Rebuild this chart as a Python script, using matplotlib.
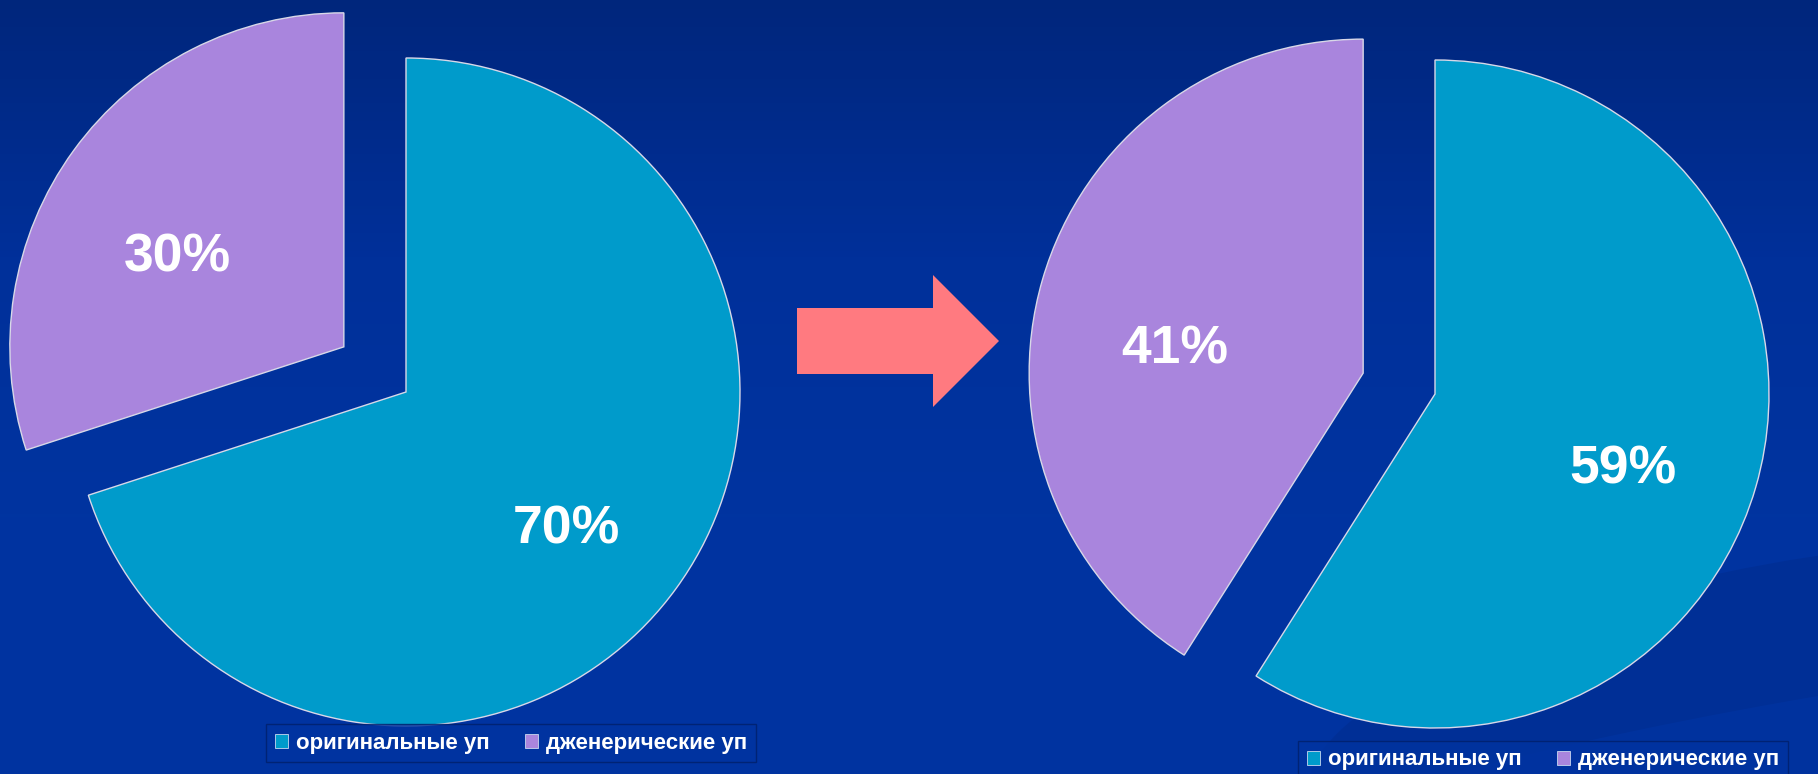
import numpy as np
import matplotlib
matplotlib.use("Agg")
import matplotlib.pyplot as plt
from matplotlib.patches import Polygon, Patch, Ellipse
from matplotlib.colors import LinearSegmentedColormap

plt.rcParams['font.family'] = ['Liberation Sans', 'DejaVu Sans']

# ---- data ----
categories = ["оригинальные уп", "дженерические уп"]
before_values = [70, 30]
after_values = [59, 41]
before_labels = ["70%", "30%"]
after_labels = ["59%", "41%"]

TEAL = "#009bcb"
PURPLE = "#a985dd"
colors = [TEAL, PURPLE]

W, H = 1818, 774
fig = plt.figure(figsize=(W / 100, H / 100), dpi=100)
ax = fig.add_axes([0, 0, 1, 1])

# background gradient (dark at top)
cmap = LinearSegmentedColormap.from_list("bg", ["#00267c", "#00309a", "#0034a0", "#0033a0"])
grad = np.linspace(0, 1, 256).reshape(-1, 1)
ax.imshow(grad, extent=[0, W, 0, H], aspect='auto', cmap=cmap, zorder=0)

def py(y):
    return H - y

# subtle swoosh in the lower right
ax.add_patch(Ellipse((1750, py(700)), 900, 260, angle=12, facecolor="#002c8e",
                     edgecolor="none", alpha=0.55, zorder=0.5))
ax.add_patch(Ellipse((1800, py(760)), 1100, 120, angle=10, facecolor="#0036a6",
                     edgecolor="none", alpha=0.5, zorder=0.6))

R = 334
wp = dict(edgecolor="#d8d8e8", linewidth=1.0)

ax.pie(before_values, startangle=90, counterclock=False, colors=colors,
       explode=[0, 0.23 * R], center=(406, py(392)), radius=R, wedgeprops=wp,
       frame=True)
ax.pie(after_values, startangle=90, counterclock=False, colors=colors,
       explode=[0, 0.224 * R], center=(1435, py(394)), radius=R, wedgeprops=wp,
       frame=True)
ax.set_xlim(0, W)
ax.set_ylim(0, H)
ax.set_aspect('equal')
ax.axis('off')

lab_kw = dict(color="white", fontsize=38.5, fontweight="bold", ha="center", va="center", zorder=5)
ax.text(566, py(529), before_labels[0], **lab_kw)
ax.text(177, py(257), before_labels[1], **lab_kw)
ax.text(1623, py(469), after_labels[0], **lab_kw)
ax.text(1175, py(350), after_labels[1], **lab_kw)

# arrow
arrow = Polygon([(797, py(308)), (933, py(308)), (933, py(275)), (999, py(341)),
                 (933, py(407)), (933, py(374)), (797, py(374))],
                closed=True, facecolor="#ff7a80", edgecolor="none", zorder=4)
ax.add_patch(arrow)

# legends
handles = [Patch(facecolor=c, edgecolor="#c8d8f0", linewidth=0.6) for c in colors]
leg_kw = dict(ncol=2, fontsize=16, frameon=True, handlelength=0.6, handleheight=0.6,
              handletextpad=0.35, columnspacing=1.6, borderpad=0.4, borderaxespad=0,
              bbox_transform=fig.transFigure, loc="center", fancybox=False)
for cx, cy in [(511 / W, 1 - 743 / H), (1543 / W, 1 - 760 / H)]:
    leg = fig.legend(handles, categories, bbox_to_anchor=(cx, cy), **leg_kw)
    leg.get_frame().set_facecolor("#0033a0")
    leg.get_frame().set_edgecolor("#001f6a")
    leg.get_frame().set_linewidth(1.0)
    for t in leg.get_texts():
        t.set_color("white")
        t.set_fontweight("bold")

fig.savefig("out.png", dpi=100)
